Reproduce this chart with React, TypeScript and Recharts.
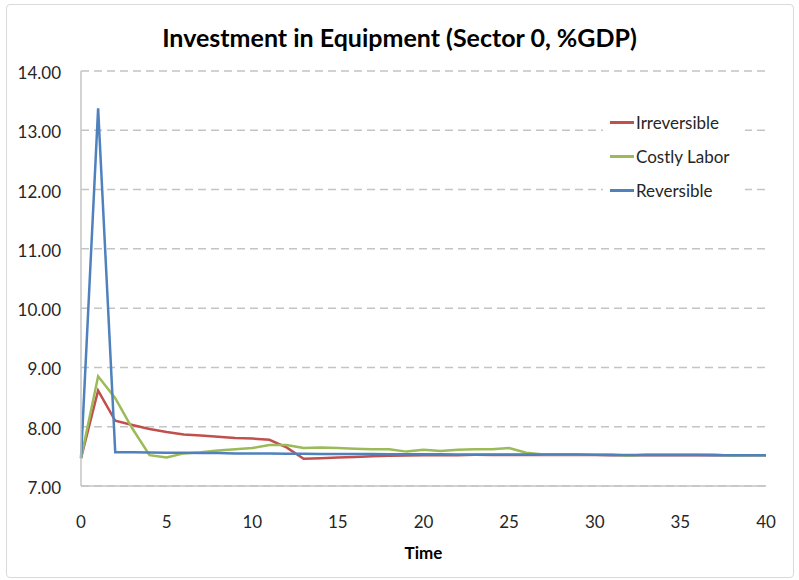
import React from 'react';
import { LineChart, Line, XAxis, YAxis, CartesianGrid } from 'recharts';

const times = Array.from({ length: 41 }, (_, i) => i);
const irreversible = [7.47, 8.61, 8.10, 8.03, 7.96, 7.91, 7.87, 7.85, 7.83, 7.81, 7.80, 7.78, 7.65, 7.46, 7.47, 7.48, 7.49, 7.50, 7.51, 7.515, 7.52, 7.52, 7.52, 7.525, 7.525, 7.525, 7.525, 7.525, 7.525, 7.525, 7.525, 7.52, 7.52, 7.52, 7.52, 7.52, 7.52, 7.52, 7.52, 7.52, 7.52];
const costlyLabor = [7.47, 8.85, 8.48, 7.97, 7.52, 7.48, 7.55, 7.57, 7.60, 7.62, 7.64, 7.69, 7.69, 7.64, 7.65, 7.64, 7.63, 7.62, 7.62, 7.58, 7.61, 7.59, 7.61, 7.62, 7.62, 7.64, 7.56, 7.53, 7.53, 7.53, 7.53, 7.53, 7.51, 7.53, 7.53, 7.53, 7.53, 7.53, 7.51, 7.52, 7.52];
const reversible = [7.47, 13.37, 7.57, 7.57, 7.565, 7.56, 7.56, 7.555, 7.555, 7.55, 7.55, 7.55, 7.545, 7.545, 7.54, 7.54, 7.54, 7.54, 7.535, 7.535, 7.535, 7.535, 7.53, 7.53, 7.53, 7.53, 7.53, 7.53, 7.53, 7.53, 7.525, 7.525, 7.525, 7.525, 7.525, 7.525, 7.525, 7.52, 7.52, 7.52, 7.52];
const xTicks = [0, 5, 10, 15, 20, 25, 30, 35, 40];
const yTicks = [7, 8, 9, 10, 11, 12, 13, 14];
const seriesNames = ['Irreversible', 'Costly Labor', 'Reversible'];
const seriesKeys = ['irreversible', 'costly', 'reversible'];
const seriesColors = ['#C0504D', '#9BBB59', '#4F81BD'];

const data = times.map((t, i) => ({
  t,
  irreversible: irreversible[i],
  costly: costlyLabor[i],
  reversible: reversible[i],
}));

const FONT = 'Lato, "Open Sans", sans-serif';

export default function App() {
  return (
    <div style={{ position: 'absolute', left: 0, top: 0, width: 799, height: 580, background: '#fff' }}>
      <div style={{ position: 'absolute', left: 6, top: 4, width: 786, height: 572, border: '1px solid #d9d9d9', borderRadius: 4 }} />
      <div style={{ position: 'absolute', left: 0, top: 22, width: 799, textAlign: 'center', fontFamily: FONT, fontWeight: 'bold', fontSize: 25, color: '#000' }}>
        Investment in Equipment (Sector 0, %GDP)
      </div>
      <LineChart width={799} height={580} data={data} margin={{ top: 71, right: 33, bottom: 0, left: 11 }} style={{ position: 'absolute', left: 0, top: 0 }}>
        <CartesianGrid horizontal vertical={false} stroke="#c4c4c4" strokeDasharray="8 5" strokeWidth={1.5} />
        <XAxis
          dataKey="t"
          type="number"
          domain={[0, 40]}
          ticks={xTicks}
          tickLine={false}
          axisLine={{ stroke: '#c4c4c4', strokeWidth: 1.5 }}
          tickMargin={24}
          height={94}
          tick={{ fontFamily: FONT, fontSize: 17, fill: '#262626' }}
          label={{ value: 'Time', position: 'insideTop', offset: 61, style: { fontFamily: FONT, fontSize: 17, fontWeight: 'bold', fill: '#000' } }}
        />
        <YAxis
          type="number"
          domain={[7, 14]}
          ticks={yTicks}
          tickLine={false}
          axisLine={{ stroke: '#c4c4c4', strokeWidth: 1.5 }}
          width={70}
          tickMargin={14}
          tickFormatter={(v: number) => v.toFixed(2)}
          tick={{ fontFamily: FONT, fontSize: 17, fill: '#262626', dy: 2 }}
        />
        {seriesKeys.map((k, i) => (
          <Line key={k} type="linear" dataKey={k} name={seriesNames[i]} stroke={seriesColors[i]} strokeWidth={2.5} dot={false} isAnimationActive={false} />
        ))}
      </LineChart>
      <div style={{ position: 'absolute', left: 603, top: 105, width: 142, background: '#fff', padding: '0 0 0 7px', boxSizing: 'border-box' }}>
        {seriesNames.map((n, i) => (
          <div key={n} style={{ display: 'flex', alignItems: 'center', height: 34 }}>
            <span style={{ display: 'inline-block', width: 24, height: 3, background: seriesColors[i], marginRight: 2 }} />
            <span style={{ fontFamily: FONT, fontSize: 17, color: '#262626' }}>{n}</span>
          </div>
        ))}
      </div>
    </div>
  );
}
